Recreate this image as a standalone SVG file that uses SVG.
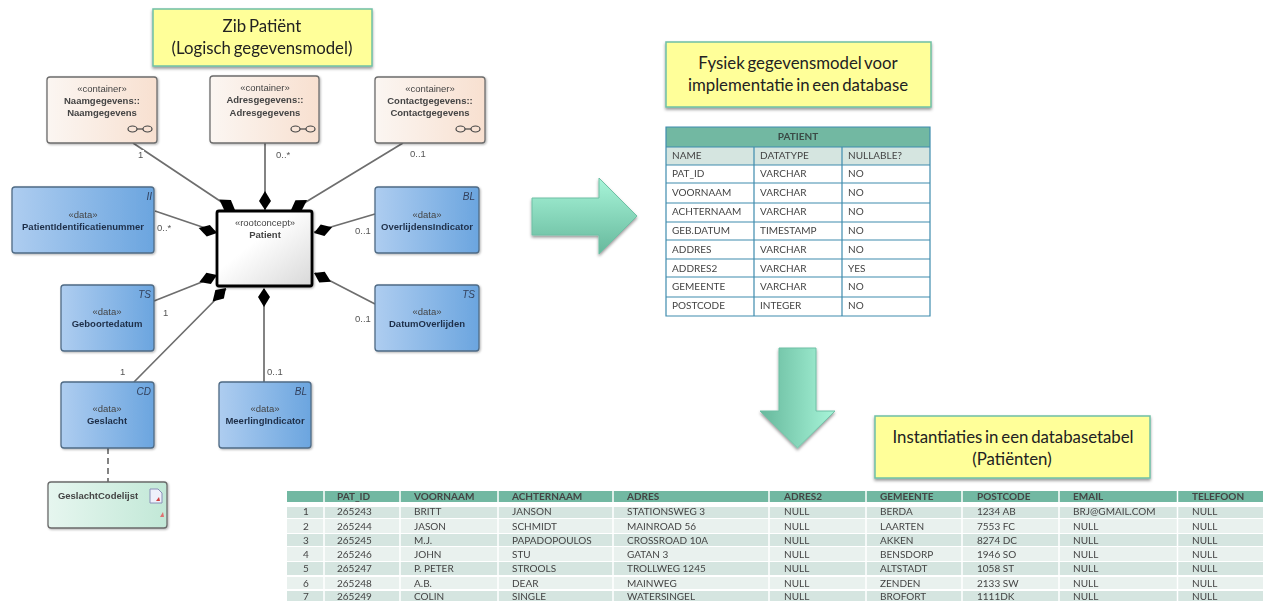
<svg xmlns="http://www.w3.org/2000/svg" xmlns:xlink="http://www.w3.org/1999/xlink" width="1263" height="601" viewBox="0 0 1263 601">
<style>
text{font-family:"Lato","Liberation Sans",sans-serif;fill:#444}
.co{fill:#ffff99;stroke:#6fc0a5;stroke-width:1.5;filter:url(#sh)}
.cot{font-size:16.800px;fill:#222;text-anchor:middle;word-spacing:-1.500px}
.uml text{font-family:"Liberation Sans",sans-serif;text-anchor:middle;font-size:9.500px;fill:#444}
.uml .b{font-weight:bold}
.uml .t{font-style:italic;text-anchor:end;font-size:10px;fill:#33415c}
.uml .dk{fill:#1f2f48}
.ct{fill:url(#gc);stroke:#6c6c6c;stroke-width:1.3;filter:url(#sh2)}
.dt{fill:url(#gd);stroke:#4f6b85;stroke-width:1.3;filter:url(#sh2)}
.ln{fill:none;stroke:#6e6e6e;stroke-width:1.7}
.dm{fill:#000}
.uml .lb{text-anchor:start;font-size:9.500px;fill:#555}
.gl{fill:none;stroke:#444;stroke-width:1.2}
.hd{fill:#72b8a2}
.r1{fill:#d5e5e0}
.r2{fill:#e9f1ee}
.g{stroke:#3f8cae;stroke-width:1.2;fill:none}
.t1,.t2{font-size:10px}
.h{font-weight:bold;font-size:10px;fill:#3a4a45}
</style>
<defs>
<linearGradient id="gc"><stop offset="0" stop-color="#fbf6f2"/><stop offset="1" stop-color="#f8e0d0"/></linearGradient>
<linearGradient id="gd"><stop offset="0" stop-color="#aecdf0"/><stop offset="1" stop-color="#6ba5df"/></linearGradient>
<linearGradient id="gp" x1="0" y1="0" x2="1" y2="1"><stop offset=".4" stop-color="#ffffff"/><stop offset="1" stop-color="#d8d8d8"/></linearGradient>
<linearGradient id="gl"><stop offset="0" stop-color="#e6f6ef"/><stop offset="1" stop-color="#c2e8d7"/></linearGradient>
<linearGradient id="ga" x1="0" y1="0" x2="0" y2="1"><stop offset="0" stop-color="#a8f5d9"/><stop offset="1" stop-color="#66b89c"/></linearGradient>
<linearGradient id="gb" x1="1" y1="0" x2="0" y2="0"><stop offset="0" stop-color="#a8f5d9"/><stop offset="1" stop-color="#66b89c"/></linearGradient>
<filter id="sh" x="-10%" y="-20%" width="120%" height="150%"><feDropShadow dx="0" dy="2" stdDeviation="1.6" flood-color="#000" flood-opacity=".4"/></filter>
<filter id="sh2" x="-10%" y="-10%" width="120%" height="120%"><feDropShadow dx="1" dy="1" stdDeviation="1" flood-color="#000" flood-opacity=".3"/></filter>
<filter id="bl"><feGaussianBlur stdDeviation="0.35"/></filter>
<polygon id="d" class="dm" points="0,0 9,-6 19,0 9,6"/>
<g id="glasses"><ellipse class="gl" cx="-7.500" cy="0" rx="4.500" ry="3"/><ellipse class="gl" cx="7.500" cy="0" rx="4.500" ry="3"/><path class="gl" d="M-3 0H3"/></g>
</defs>
<rect width="1263" height="601" fill="#fff"/>

<g id="connectors" class="uml" filter="url(#bl)">
<path class="ln" d="M133 143L232 209M265 143V211M403 143L296 208M155 211L217 232M375 214L314 232M154 301L217 276M134 382L226 289M264 382V289M375 304L315 273"/>
<path class="ln" stroke-dasharray="6 4" d="M108 448V482"/>
<use xlink:href="#d" transform="translate(235,210) rotate(-146)"/>
<use xlink:href="#d" transform="translate(265,210) rotate(-90)"/>
<use xlink:href="#d" transform="translate(291,210) rotate(-32)"/>
<use xlink:href="#d" transform="translate(217,233) rotate(-165)"/>
<use xlink:href="#d" transform="translate(314,233) rotate(-18)"/>
<use xlink:href="#d" transform="translate(217,275) rotate(158)"/>
<use xlink:href="#d" transform="translate(226,288) rotate(135)"/>
<use xlink:href="#d" transform="translate(264,288) rotate(90)"/>
<use xlink:href="#d" transform="translate(314,273) rotate(27)"/>
<rect x="137" y="150" width="7" height="10" fill="#fff"/>
<text class="lb" x="138" y="158">1</text>
<text class="lb" x="276" y="158">0..*</text>
<text class="lb" x="410" y="157">0..1</text>
<text class="lb" x="157" y="231">0..*</text>
<text class="lb" x="355" y="234">0..1</text>
<text class="lb" x="163" y="316">1</text>
<text class="lb" x="355" y="322">0..1</text>
<text class="lb" x="120" y="375">1</text>
<text class="lb" x="267" y="375">0..1</text>
</g>

<g class="uml" filter="url(#bl)">
<g id="n-naam"><rect class="ct" x="47" y="77" width="110" height="66" rx="3"/><text x="102" y="92">«container»</text><text class="b" x="102" y="104">Naamgegevens::</text><text class="b" x="102" y="116">Naamgegevens</text><use xlink:href="#glasses" x="140" y="129"/></g>
<g id="n-adres"><rect class="ct" x="210" y="76" width="109" height="67" rx="3"/><text x="265" y="91">«container»</text><text class="b" x="265" y="103">Adresgegevens::</text><text class="b" x="265" y="116">Adresgegevens</text><use xlink:href="#glasses" x="303" y="129"/></g>
<g id="n-contact"><rect class="ct" x="375" y="77" width="110" height="66" rx="3"/><text x="430" y="92">«container»</text><text class="b" x="430" y="104">Contactgegevens::</text><text class="b" x="430" y="116">Contactgegevens</text><use xlink:href="#glasses" x="468" y="129"/></g>
<g id="n-pid"><rect class="dt" x="12" y="187" width="142" height="66" rx="3"/><text class="t" x="152" y="200">II</text><text x="83" y="218">«data»</text><text class="b dk" x="83" y="230">PatientIdentificatienummer</text></g>
<g id="n-overl"><rect class="dt" x="375" y="187" width="104" height="66" rx="3"/><text class="t" x="475" y="200">BL</text><text x="427" y="218">«data»</text><text class="b dk" x="427" y="230">OverlijdensIndicator</text></g>
<g id="n-patient"><rect x="217" y="211" width="95" height="75" rx="2" fill="url(#gp)" stroke="#000" stroke-width="2.800" filter="url(#sh2)"/><text x="265" y="226">«rootconcept»</text><text class="b" x="265" y="238">Patient</text></g>
<g id="n-geb"><rect class="dt" x="61" y="285" width="93" height="66" rx="3"/><text class="t" x="151" y="298">TS</text><text x="107" y="315">«data»</text><text class="b dk" x="107" y="327">Geboortedatum</text></g>
<g id="n-dat"><rect class="dt" x="375" y="285" width="104" height="66" rx="3"/><text class="t" x="475" y="298">TS</text><text x="427" y="315">«data»</text><text class="b dk" x="427" y="327">DatumOverlijden</text></g>
<g id="n-gesl"><rect class="dt" x="61" y="382" width="93" height="66" rx="3"/><text class="t" x="151" y="395">CD</text><text x="107" y="412">«data»</text><text class="b dk" x="107" y="424">Geslacht</text></g>
<g id="n-meer"><rect class="dt" x="219" y="382" width="92" height="66" rx="3"/><text class="t" x="307" y="395">BL</text><text x="265" y="412">«data»</text><text class="b dk" x="265" y="424">MeerlingIndicator</text></g>
<g id="n-code"><rect x="48" y="482" width="119" height="46" rx="3" fill="url(#gl)" stroke="#6a6a6a" stroke-width="1.300" filter="url(#sh2)"/><text class="b" x="98" y="499">GeslachtCodelijst</text><path d="M150 489H158L162 493V503H150Z" fill="#eef0fa" stroke="#8a90b8"/><path d="M156 501L160 501L159 497Z" fill="#d04040"/><path d="M160 517L164 517L163 512Z" fill="#e07070"/></g>
</g>

<g id="callout-zib"><rect class="co" x="153" y="9" width="219" height="57"/><text class="cot" x="262" y="32">Zib Patiënt</text><text class="cot" x="262" y="54">(Logisch gegevensmodel)</text></g>
<g id="callout-fysiek"><rect class="co" x="666" y="42" width="265" height="65"/><text class="cot" x="798" y="69">Fysiek gegevensmodel voor</text><text class="cot" x="798" y="91">implementatie in een database</text></g>
<g id="callout-inst"><rect class="co" x="875" y="416" width="275" height="62"/><text class="cot" x="1013" y="443">Instantiaties in een databasetabel</text><text class="cot" x="1012" y="465">(Patiënten)</text></g>

<g id="arrow-right"><polygon points="532,198 599,198 599,178 637,216 599,254 599,235 532,235" fill="url(#ga)" stroke="#6fc0a5" filter="url(#sh)"/></g>
<g id="arrow-down"><polygon points="779,348 816,348 816,411 835,411 797.500,448 760,411 779,411" fill="url(#gb)" stroke="#6fc0a5" filter="url(#sh)"/></g>

<g id="table-patient">
<rect class="hd" x="666" y="127" width="264" height="20"/>
<rect class="r1" x="666" y="147" width="264" height="18"/>
<rect x="666" y="165" width="264" height="151" fill="#fff"/>
<path class="g" d="M666 127H930V316H666ZM666 147H930M666 165H930M666 183H930M666 203H930M666 222H930M666 240H930M666 259H930M666 277H930M666 297H930M754 147V316M842 147V316"/>
<text class="h" x="798" y="140" text-anchor="middle">PATIENT</text>
<g class="t1">
<text x="672" y="159">NAME</text><text x="760" y="159">DATATYPE</text><text x="848" y="159">NULLABLE?</text>
<text x="672" y="177">PAT_ID</text><text x="760" y="177">VARCHAR</text><text x="848" y="177">NO</text>
<text x="672" y="196">VOORNAAM</text><text x="760" y="196">VARCHAR</text><text x="848" y="196">NO</text>
<text x="672" y="215">ACHTERNAAM</text><text x="760" y="215">VARCHAR</text><text x="848" y="215">NO</text>
<text x="672" y="234">GEB.DATUM</text><text x="760" y="234">TIMESTAMP</text><text x="848" y="234">NO</text>
<text x="672" y="253">ADDRES</text><text x="760" y="253">VARCHAR</text><text x="848" y="253">NO</text>
<text x="672" y="272">ADDRES2</text><text x="760" y="272">VARCHAR</text><text x="848" y="272">YES</text>
<text x="672" y="290">GEMEENTE</text><text x="760" y="290">VARCHAR</text><text x="848" y="290">NO</text>
<text x="672" y="309">POSTCODE</text><text x="760" y="309">INTEGER</text><text x="848" y="309">NO</text>
</g>
</g>

<g id="table-data">
<rect class="hd" x="287" y="491" width="976" height="11"/>
<rect class="r1" x="287" y="507" width="976" height="11"/>
<rect class="r2" x="287" y="519" width="976" height="14"/>
<rect class="r1" x="287" y="534" width="976" height="12"/>
<rect class="r2" x="287" y="547" width="976" height="14"/>
<rect class="r1" x="287" y="562" width="976" height="13"/>
<rect class="r2" x="287" y="577" width="976" height="12"/>
<rect class="r1" x="287" y="591" width="976" height="10"/>
<path d="M324 491V601M400 491V601M498 491V601M613 491V601M769 491V601M866 491V601M962 491V601M1059 491V601M1177.500 491V601" stroke="#fff" stroke-width="1.500"/>
<g class="h">
<text x="337" y="500">PAT_ID</text><text x="414" y="500">VOORNAAM</text><text x="512" y="500">ACHTERNAAM</text><text x="627" y="500">ADRES</text><text x="784" y="500">ADRES2</text><text x="880" y="500">GEMEENTE</text><text x="977" y="500">POSTCODE</text><text x="1073" y="500">EMAIL</text><text x="1192" y="500">TELEFOON</text>
</g>
<g class="t2">
<text x="303" y="515">1</text><text x="337" y="515">265243</text><text x="414" y="515">BRITT</text><text x="512" y="515">JANSON</text><text x="627" y="515">STATIONSWEG 3</text><text x="784" y="515">NULL</text><text x="880" y="515">BERDA</text><text x="977" y="515">1234 AB</text><text x="1073" y="515">BRJ@GMAIL.COM</text><text x="1192" y="515">NULL</text>
<text x="303" y="530">2</text><text x="337" y="530">265244</text><text x="414" y="530">JASON</text><text x="512" y="530">SCHMIDT</text><text x="627" y="530">MAINROAD 56</text><text x="784" y="530">NULL</text><text x="880" y="530">LAARTEN</text><text x="977" y="530">7553 FC</text><text x="1073" y="530">NULL</text><text x="1192" y="530">NULL</text>
<text x="303" y="544">3</text><text x="337" y="544">265245</text><text x="414" y="544">M.J.</text><text x="512" y="544">PAPADOPOULOS</text><text x="627" y="544">CROSSROAD 10A</text><text x="784" y="544">NULL</text><text x="880" y="544">AKKEN</text><text x="977" y="544">8274 DC</text><text x="1073" y="544">NULL</text><text x="1192" y="544">NULL</text>
<text x="303" y="558">4</text><text x="337" y="558">265246</text><text x="414" y="558">JOHN</text><text x="512" y="558">STU</text><text x="627" y="558">GATAN 3</text><text x="784" y="558">NULL</text><text x="880" y="558">BENSDORP</text><text x="977" y="558">1946 SO</text><text x="1073" y="558">NULL</text><text x="1192" y="558">NULL</text>
<text x="303" y="572">5</text><text x="337" y="572">265247</text><text x="414" y="572">P. PETER</text><text x="512" y="572">STROOLS</text><text x="627" y="572">TROLLWEG 1245</text><text x="784" y="572">NULL</text><text x="880" y="572">ALTSTADT</text><text x="977" y="572">1058 ST</text><text x="1073" y="572">NULL</text><text x="1192" y="572">NULL</text>
<text x="303" y="587">6</text><text x="337" y="587">265248</text><text x="414" y="587">A.B.</text><text x="512" y="587">DEAR</text><text x="627" y="587">MAINWEG</text><text x="784" y="587">NULL</text><text x="880" y="587">ZENDEN</text><text x="977" y="587">2133 SW</text><text x="1073" y="587">NULL</text><text x="1192" y="587">NULL</text>
<text x="303" y="600">7</text><text x="337" y="600">265249</text><text x="414" y="600">COLIN</text><text x="512" y="600">SINGLE</text><text x="627" y="600">WATERSINGEL</text><text x="784" y="600">NULL</text><text x="880" y="600">BROFORT</text><text x="977" y="600">1111DK</text><text x="1073" y="600">NULL</text><text x="1192" y="600">NULL</text>
</g>
</g>
</svg>
